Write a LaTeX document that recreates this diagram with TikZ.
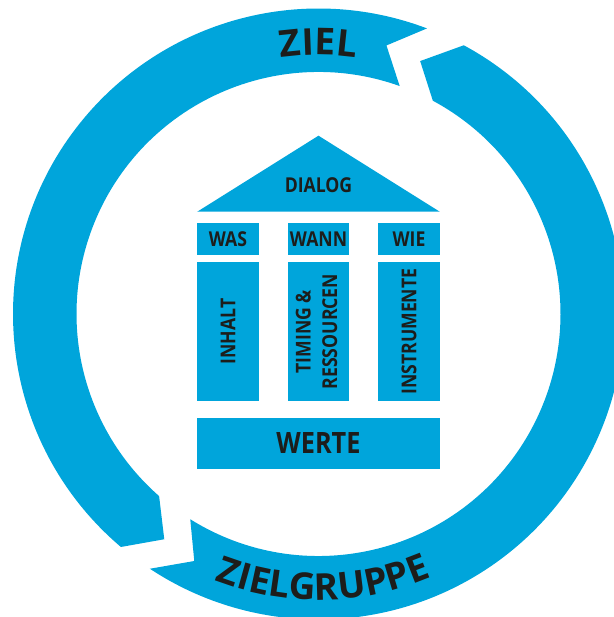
\documentclass[tikz,border=0pt]{standalone}
\usepackage{fontspec}
\usepackage{tikz}
\usetikzlibrary{positioning}
\usetikzlibrary{decorations.text}
\newfontfamily\housefont[FakeStretch=0.86]{Open Sans Bold}
\newfontfamily\ringfont{Open Sans Bold}
\definecolor{ringblue}{RGB}{0,165,219}
\definecolor{ink}{RGB}{29,29,27}
\newcommand{\ringinner}{242}
\newcommand{\ringouter}{305.5}
\newcommand{\colgap}{29pt}
\tikzstyle{cell}=[
  fill=ringblue,
  text=ink,
  minimum width=61.5pt,
  minimum height=31.7pt,
  inner sep=0pt,
  outer sep=0pt,
  font=\housefont\fontsize{20.5}{26.5}\selectfont
]
\tikzstyle{pillar}=[
  cell,
  minimum height=139.8pt
]
\tikzstyle{plinth}=[
  cell,
  minimum width=242.5pt,
  minimum height=51.3pt,
  font=\housefont\fontsize{29.4}{35}\selectfont
]
\newcommand{\arctext}[4]{{
  \path[decorate, decoration={text along path, text align=center, text color=ink,
        text={|\ringfont\fontsize{37}{40}\selectfont|#4}}]
    (#2:#1) arc[start angle=#2, end angle=#3, radius=#1];
}}

\begin{document}
\begin{tikzpicture}[x=1pt, y=1pt]
  \useasboundingbox (-318.5,-303) rectangle (294.5,314);

  \fill[ringblue] (229.7:\ringouter) arc[start angle=229.7, end angle=69.2, radius=\ringouter]
    -- (75.8:277) -- (70.4:\ringinner) arc[start angle=70.4, end angle=228.8, radius=\ringinner]
    -- (235.6:273) -- cycle;
  \fill[ringblue] (61.6:\ringouter) arc[start angle=61.6, end angle=-123.5, radius=\ringouter]
    -- (-116.7:276.5) -- (-122.0:\ringinner) arc[start angle=-122.0, end angle=61.8, radius=\ringinner]
    -- (68.1:272.6) -- cycle;

  \arctext{259}{110}{70}{ZIEL}
  \arctext{286}{226}{316}{ZIELGRUPPE}

  \node[cell                       ] (wann) at (0, 74.85) {WANN};
  \node[cell, left=\colgap of wann ] (was)  {WAS};
  \node[cell, right=\colgap of wann] (wie)  {WIE};

  \node[pillar, below=6.7pt of was ] (inhalt) {\rotatebox{90}{INHALT}};
  \node[pillar, below=6.7pt of wann] (timing) {\rotatebox{90}{\begin{tabular}{@{}c@{}}TIMING \&\\RESSOURCEN\end{tabular}}};
  \node[pillar, below=6.7pt of wie ] (instr)  {\rotatebox{90}{INSTRUMENTE}};

  \node[plinth, below=16.2pt of timing] (werte) {WERTE};

  \coordinate[above=11.6pt of was.north west] (eavel);
  \coordinate[above=11.6pt of wie.north east] (eaver);
  \coordinate (apex) at (0, 178.3);
  \fill[ringblue] (eavel) -- (apex) -- (eaver) -- cycle;
  \node[cell, fill=none] (dialog) at (0, 129) {DIALOG};
\end{tikzpicture}
\end{document}
